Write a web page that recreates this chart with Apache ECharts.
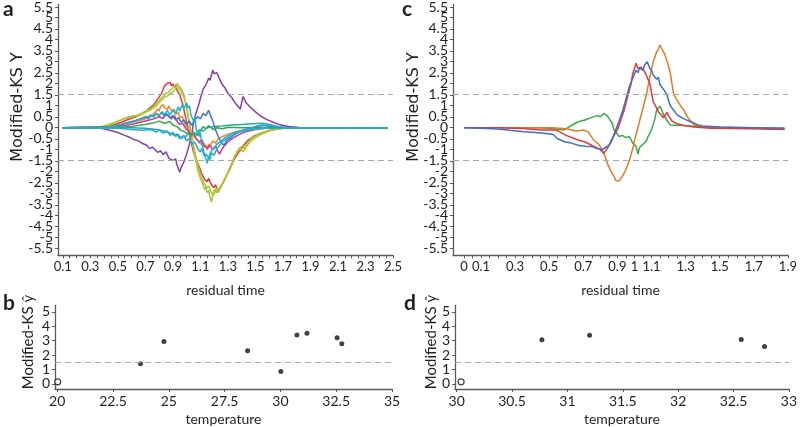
<!DOCTYPE html>
<html><head><meta charset="utf-8">
<script src="https://cdn.jsdelivr.net/npm/echarts@6/dist/echarts.min.js"></script>
<style>html,body{margin:0;padding:0;background:#fff}#c{width:800px;height:427px}</style>
</head><body><div id="c"></div>
<script>
// ---------- Panel a : residual time vs Modified-KS Y ----------
const purpleA = [[0.1,0],[0.3,0],[0.38,-0.03],[0.44,-0.12],[0.5,-0.22],[0.55,-0.35],[0.58,-0.42],[0.62,-0.55],[0.65,-0.6],[0.68,-0.72],[0.71,-0.8],[0.73,-0.95],[0.75,-0.88],[0.77,-1.0],[0.79,-1.12],[0.81,-1.05],[0.83,-1.22],[0.85,-1.1],[0.87,-1.38],[0.88,-1.3],[0.9,-1.5],[0.92,-1.42],[0.93,-1.7],[0.95,-2.02],[0.96,-1.8],[0.98,-1.55],[1.0,-1.2],[1.02,-0.75],[1.04,-0.2],[1.05,0.25],[1.07,0.7],[1.09,1.1],[1.11,1.55],[1.12,1.75],[1.14,1.95],[1.16,2.25],[1.17,2.15],[1.19,2.62],[1.2,2.45],[1.22,2.5],[1.24,2.2],[1.26,1.95],[1.28,1.8],[1.3,1.55],[1.33,1.35],[1.35,1.15],[1.37,1.0],[1.39,0.85],[1.4,0.8],[1.41,1.42],[1.43,1.15],[1.46,0.95],[1.5,0.72],[1.54,0.52],[1.58,0.38],[1.63,0.25],[1.68,0.13],[1.74,0.05],[1.82,0.01],[2.46,0]];
const redA = [[0.1,0],[0.35,0.01],[0.42,0.06],[0.48,0.15],[0.53,0.26],[0.57,0.36],[0.61,0.45],[0.65,0.55],[0.68,0.66],[0.71,0.78],[0.73,0.88],[0.75,0.98],[0.77,1.12],[0.79,1.3],[0.8,1.25],[0.81,1.48],[0.82,1.6],[0.83,1.75],[0.84,1.9],[0.85,1.82],[0.86,2.02],[0.87,1.95],[0.88,2.05],[0.89,1.9],[0.9,2.0],[0.91,1.85],[0.92,1.95],[0.93,1.7],[0.95,1.5],[0.97,1.1],[0.99,0.55],[1.01,0.0],[1.03,-0.6],[1.05,-1.1],[1.07,-1.45],[1.09,-1.75],[1.11,-2.1],[1.13,-2.35],[1.15,-2.45],[1.16,-2.3],[1.18,-2.6],[1.2,-2.72],[1.21,-2.6],[1.23,-2.9],[1.24,-2.75],[1.26,-2.55],[1.28,-2.3],[1.3,-2.05],[1.32,-1.8],[1.34,-1.5],[1.36,-1.3],[1.38,-1.1],[1.4,-0.95],[1.42,-0.75],[1.45,-0.55],[1.49,-0.38],[1.54,-0.25],[1.6,-0.13],[1.67,-0.05],[1.75,0],[2.46,0]];
const limeA = [[0.1,0],[0.35,0.02],[0.4,0.08],[0.45,0.18],[0.5,0.3],[0.55,0.42],[0.6,0.5],[0.63,0.55],[0.66,0.62],[0.69,0.7],[0.72,0.8],[0.75,0.9],[0.77,1.02],[0.79,1.15],[0.81,1.3],[0.83,1.42],[0.85,1.55],[0.87,1.62],[0.89,1.75],[0.9,1.7],[0.91,1.88],[0.92,1.8],[0.93,2.0],[0.94,2.08],[0.95,1.85],[0.96,1.9],[0.97,1.65],[0.98,1.5],[1.0,0.9],[1.02,0.2],[1.04,-0.6],[1.06,-1.3],[1.08,-1.9],[1.1,-2.3],[1.12,-2.6],[1.13,-2.8],[1.14,-2.7],[1.15,-2.95],[1.16,-2.85],[1.17,-3.15],[1.18,-3.38],[1.19,-3.1],[1.2,-3.0],[1.21,-2.85],[1.22,-2.95],[1.24,-2.75],[1.26,-2.55],[1.28,-2.3],[1.3,-2.0],[1.32,-1.75],[1.34,-1.45],[1.36,-1.15],[1.38,-0.95],[1.4,-0.85],[1.42,-0.95],[1.44,-0.7],[1.47,-0.5],[1.51,-0.33],[1.56,-0.2],[1.62,-0.1],[1.7,-0.02],[2.46,0]];
const oliveA = [[0.1,0],[0.38,0.03],[0.44,0.12],[0.5,0.28],[0.54,0.4],[0.58,0.5],[0.62,0.54],[0.66,0.56],[0.7,0.7],[0.73,0.78],[0.76,0.9],[0.78,0.98],[0.8,1.15],[0.82,1.25],[0.84,1.38],[0.86,1.45],[0.88,1.55],[0.9,1.62],[0.92,1.78],[0.93,1.9],[0.94,1.8],[0.95,1.72],[0.97,1.55],[0.99,1.2],[1.01,0.6],[1.03,-0.1],[1.05,-0.8],[1.07,-1.4],[1.09,-1.9],[1.11,-2.3],[1.13,-2.55],[1.14,-2.65],[1.15,-2.75],[1.16,-2.65],[1.18,-2.95],[1.19,-3.05],[1.2,-2.85],[1.22,-2.75],[1.23,-2.95],[1.25,-2.7],[1.27,-2.45],[1.29,-2.15],[1.31,-1.9],[1.33,-1.6],[1.35,-1.3],[1.37,-1.1],[1.39,-0.95],[1.4,-0.9],[1.41,-1.1],[1.43,-0.9],[1.46,-0.65],[1.5,-0.45],[1.55,-0.28],[1.6,-0.15],[1.66,-0.06],[1.72,0],[2.46,0]];
const orangeA = [[0.1,0],[0.4,0.02],[0.48,0.08],[0.55,0.18],[0.62,0.27],[0.68,0.36],[0.72,0.45],[0.75,0.55],[0.77,0.7],[0.78,0.62],[0.79,0.85],[0.8,0.75],[0.81,0.95],[0.82,0.88],[0.83,1.05],[0.84,0.9],[0.85,0.98],[0.86,0.82],[0.87,1.0],[0.88,0.85],[0.9,0.72],[0.91,0.85],[0.92,0.6],[0.94,0.7],[0.95,0.45],[0.97,0.5],[0.98,0.25],[1.0,0.05],[1.02,-0.15],[1.04,-0.3],[1.06,-0.45],[1.08,-0.55],[1.1,-0.75],[1.11,-0.65],[1.13,-0.9],[1.14,-0.8],[1.15,-1.02],[1.16,-0.75],[1.17,-0.85],[1.19,-0.6],[1.21,-0.7],[1.23,-0.5],[1.26,-0.4],[1.3,-0.3],[1.35,-0.2],[1.42,-0.1],[1.5,-0.04],[1.6,0],[2.46,0]];
const magentaA = [[0.1,0],[0.45,0.02],[0.55,0.1],[0.62,0.18],[0.7,0.3],[0.75,0.38],[0.8,0.5],[0.83,0.42],[0.85,0.62],[0.87,0.5],[0.89,0.4],[0.91,0.55],[0.93,0.3],[0.95,0.15],[0.97,0.2],[0.99,0.0],[1.01,-0.15],[1.03,-0.3],[1.05,-0.25],[1.07,-0.5],[1.09,-0.65],[1.11,-0.55],[1.13,-0.8],[1.15,-0.95],[1.17,-0.8],[1.19,-1.0],[1.21,-0.85],[1.23,-1.1],[1.24,-1.2],[1.25,-1.05],[1.27,-0.85],[1.3,-0.65],[1.33,-0.5],[1.37,-0.35],[1.42,-0.2],[1.5,-0.08],[1.6,0],[2.46,0]];
const greenA = [[0.1,0],[0.5,0.01],[0.6,0.06],[0.7,0.15],[0.76,0.22],[0.8,0.3],[0.84,0.2],[0.88,0.28],[0.9,0.12],[0.93,0.05],[0.96,-0.12],[0.99,-0.2],[1.02,-0.32],[1.05,-0.25],[1.08,-0.35],[1.1,-0.15],[1.12,0.05],[1.14,-0.05],[1.16,0.1],[1.19,-0.08],[1.22,0.0],[1.26,-0.05],[1.3,0.02],[1.4,0],[2.46,0]];
const tealA = [[0.1,0],[0.6,0],[0.7,-0.03],[0.78,-0.08],[0.84,-0.15],[0.88,-0.25],[0.91,-0.35],[0.93,-0.28],[0.95,-0.5],[0.97,-0.38],[0.99,-0.45],[1.01,-0.25],[1.03,-0.4],[1.05,-0.2],[1.07,-0.3],[1.09,-0.1],[1.12,-0.15],[1.15,0.0],[1.2,0.05],[1.26,0.08],[1.32,0.12],[1.4,0.15],[1.48,0.18],[1.55,0.2],[1.6,0.15],[1.66,0.06],[1.72,0.01],[2.46,0]];
const blueA = [[0.1,0],[0.45,0.04],[0.52,0.15],[0.58,0.25],[0.63,0.33],[0.67,0.42],[0.7,0.5],[0.72,0.42],[0.74,0.58],[0.76,0.5],[0.78,0.65],[0.8,0.55],[0.82,0.7],[0.84,0.52],[0.86,0.62],[0.88,0.45],[0.9,0.55],[0.92,0.35],[0.94,0.45],[0.96,0.25],[0.98,0.35],[1.0,0.15],[1.02,0.3],[1.04,0.1],[1.06,0.35],[1.08,0.5],[1.1,0.4],[1.12,0.65],[1.14,0.55],[1.16,0.8],[1.17,0.6],[1.19,0.3],[1.21,-0.1],[1.23,-0.4],[1.25,-0.65],[1.27,-0.8],[1.29,-0.6],[1.31,-0.5],[1.34,-0.35],[1.38,-0.2],[1.44,-0.05],[1.5,0.05],[1.56,0.1],[1.62,0.06],[1.7,0.01],[2.46,0]];
const skyA = [[0.1,0],[0.5,-0.03],[0.6,-0.08],[0.68,-0.12],[0.74,-0.08],[0.78,-0.2],[0.8,-0.1],[0.83,-0.25],[0.86,-0.15],[0.88,-0.35],[0.9,-0.2],[0.92,-0.4],[0.94,-0.3],[0.96,-0.5],[0.98,-0.35],[1.0,-0.6],[1.02,-0.5],[1.04,-0.75],[1.06,-0.65],[1.08,-0.95],[1.1,-1.1],[1.11,-0.95],[1.13,-1.3],[1.14,-1.2],[1.16,-1.35],[1.18,-1.05],[1.2,-0.9],[1.22,-0.75],[1.25,-0.6],[1.28,-0.45],[1.32,-0.3],[1.37,-0.18],[1.43,-0.08],[1.5,0.05],[1.55,0.12],[1.6,0.1],[1.66,0.05],[1.72,0],[2.46,0]];
const cyanA = [[0.1,0],[0.42,0.02],[0.5,0.1],[0.56,0.2],[0.62,0.3],[0.67,0.4],[0.71,0.48],[0.74,0.56],[0.76,0.5],[0.78,0.65],[0.8,0.55],[0.82,0.72],[0.84,0.6],[0.86,0.78],[0.88,0.58],[0.9,0.82],[0.92,0.65],[0.94,0.95],[0.95,0.75],[0.97,1.05],[0.98,0.85],[1.0,1.12],[1.01,0.9],[1.02,1.0],[1.03,0.6],[1.05,0.3],[1.06,0.45],[1.07,-0.1],[1.09,-0.4],[1.1,-0.25],[1.11,-0.75],[1.12,-0.95],[1.13,-1.25],[1.14,-1.4],[1.15,-1.62],[1.16,-1.3],[1.17,-1.45],[1.18,-1.15],[1.2,-1.25],[1.22,-0.95],[1.24,-0.8],[1.26,-0.65],[1.29,-0.5],[1.33,-0.35],[1.38,-0.2],[1.45,-0.1],[1.55,-0.02],[2.46,0]];

// ---------- Panel c ----------
const blueC = [[0.0,0],[0.1,-0.02],[0.2,-0.06],[0.27,-0.12],[0.35,-0.18],[0.42,-0.22],[0.48,-0.26],[0.52,-0.3],[0.55,-0.5],[0.59,-0.64],[0.63,-0.7],[0.67,-0.8],[0.71,-0.84],[0.75,-0.86],[0.78,-0.95],[0.81,-1.0],[0.83,-0.9],[0.85,-0.8],[0.87,-0.5],[0.89,-0.1],[0.91,0.3],[0.93,0.75],[0.94,0.8],[0.95,1.3],[0.97,1.86],[0.99,2.25],[1.01,2.62],[1.02,2.5],[1.03,2.7],[1.05,2.62],[1.06,2.85],[1.075,3.0],[1.09,2.7],[1.1,2.6],[1.11,2.4],[1.13,2.2],[1.14,2.3],[1.15,1.95],[1.17,1.75],[1.19,1.5],[1.21,1.0],[1.23,0.8],[1.25,0.58],[1.29,0.4],[1.33,0.27],[1.37,0.14],[1.4,0.08],[1.5,0.03],[1.7,0.0],[1.88,-0.03]];
const redC = [[0.0,0],[0.2,0],[0.35,-0.04],[0.45,-0.1],[0.54,-0.1],[0.6,-0.35],[0.67,-0.56],[0.71,-0.65],[0.75,-0.8],[0.78,-0.92],[0.8,-1.0],[0.82,-1.16],[0.84,-0.95],[0.86,-0.7],[0.88,-0.35],[0.9,-0.1],[0.92,0.35],[0.94,0.8],[0.96,1.4],[0.98,2.0],[0.99,2.45],[1.01,2.93],[1.02,2.7],[1.04,2.75],[1.06,2.55],[1.07,2.6],[1.09,2.02],[1.1,1.6],[1.11,1.18],[1.13,0.9],[1.14,0.73],[1.16,0.55],[1.17,0.45],[1.19,0.7],[1.2,0.55],[1.22,0.3],[1.25,0.18],[1.29,0.1],[1.35,0.03],[1.45,-0.02],[1.7,-0.05],[1.88,-0.08]];
const orangeC = [[0.2,0],[0.4,0],[0.52,0],[0.6,-0.05],[0.66,-0.15],[0.7,-0.1],[0.73,-0.2],[0.76,-0.55],[0.79,-0.75],[0.81,-1.0],[0.83,-1.35],[0.84,-1.6],[0.86,-1.95],[0.88,-2.2],[0.89,-2.4],[0.9,-2.35],[0.91,-2.42],[0.93,-2.2],[0.95,-1.9],[0.97,-1.5],[0.99,-0.95],[1.0,-0.6],[1.02,0.0],[1.04,0.6],[1.06,1.2],[1.07,1.5],[1.09,2.3],[1.11,3.0],[1.12,3.2],[1.13,3.45],[1.14,3.55],[1.15,3.76],[1.16,3.6],[1.17,3.62],[1.18,3.3],[1.19,3.05],[1.2,2.8],[1.21,2.5],[1.23,1.5],[1.25,1.25],[1.27,1.0],[1.29,0.8],[1.31,0.5],[1.33,0.3],[1.35,0.12],[1.4,0.03],[1.6,-0.02],[1.88,-0.05]];
const greenC = [[0.37,0],[0.45,0],[0.52,-0.05],[0.59,-0.1],[0.63,0.1],[0.67,0.27],[0.71,0.35],[0.75,0.47],[0.78,0.55],[0.8,0.5],[0.82,0.65],[0.84,0.55],[0.85,0.47],[0.87,0.2],[0.88,-0.1],[0.9,-0.3],[0.91,-0.4],[0.93,-0.35],[0.95,-0.45],[0.97,-0.4],[0.99,-0.7],[1.01,-0.85],[1.02,-1.2],[1.03,-0.9],[1.05,-0.75],[1.07,-0.6],[1.08,-0.4],[1.1,-0.1],[1.12,0.4],[1.13,0.8],[1.15,0.98],[1.16,0.8],[1.17,0.6],[1.19,0.35],[1.21,0.12],[1.25,0.1],[1.29,0.1],[1.33,0.08],[1.4,0.02],[1.6,0],[1.88,-0.03]];

// ---------- Panels b and d : temperature vs Modified-KS ŷ ----------
const tempB = [23.73, 24.78, 28.53, 30.02, 30.74, 31.19, 32.54, 32.75];
const yhatB = [1.40, 2.94, 2.30, 0.87, 3.40, 3.51, 3.21, 2.78];
const openB = [[20.02, 0.15]];
const tempD = [30.77, 31.2, 32.57, 32.78];
const yhatD = [3.06, 3.38, 3.08, 2.59];
const openD = [[30.04, 0.15]];

// ---------- tick labels ----------
const yLabelsACInt = [-5,-4,-3,-2,-1,0,1,2,3,4,5];
const yLabelsACHalf = [-5.5,-4.5,-3.5,-2.5,-1.5,-0.5,0.5,1.5,2.5,3.5,4.5,5.5];
const xLabelsA = [0.1,0.3,0.5,0.7,0.9,1.1,1.3,1.5,1.7,1.9,2.1,2.3,2.5];
const xLabelsC = [0,0.1,0.3,0.5,0.7,0.9,1,1.1,1.3,1.5,1.7,1.9];
const yLabelsBD = [0,1,2,3,4,5];
const xLabelsB = [20,22.5,25,27.5,30,32.5,35];
const xLabelsD = [30,30.5,31,31.5,32,32.5,33];
const threshold = 1.5;

function steps(a, b, s) { const r = []; for (let i = 0; a + i * s <= b + 1e-9; i++) r.push(Math.round((a + i * s) * 1000) / 1000); return r; }

const FONT = 'Lato';
const TXT = '#231f20';
const AX = '#58595b';

function valueAxis(gridIndex, min, max, labels, ticks, fontSize, extra) {
  return Object.assign({
    type: 'value', gridIndex, min, max,
    axisLine: { show: true, onZero: false, lineStyle: { color: AX, width: 1.3 } },
    axisTick: { show: true, customValues: ticks, length: 3, lineStyle: { color: AX } },
    axisLabel: { customValues: labels, color: TXT, fontFamily: FONT, fontSize: fontSize, margin: 5,
                 showMinLabel: true, showMaxLabel: true, hideOverlap: false },
    splitLine: { show: false }
  }, extra || {});
}
const hidden = (gridIndex, min, max) => ({ type: 'value', gridIndex, min, max, show: false });

const dashed = {
  symbol: ['none', 'none'], silent: true, label: { show: false },
  lineStyle: { type: [6, 4], color: '#a7a9ac', width: 1 }
};

const aColors = [
  ['purple', '#8a3fa8', purpleA], ['red', '#e8383d', redA], ['lime', '#a2c539', limeA],
  ['olive', '#b9c42b', oliveA], ['orange', '#ef8a2e', orangeA], ['magenta', '#c3399b', magentaA],
  ['green', '#3aa64b', greenA], ['teal', '#22ae9c', tealA], ['blue', '#3c78c6', blueA],
  ['sky', '#29a8dc', skyA], ['cyan', '#1eb3c4', cyanA]
];
const cColors = [['green', '#3aac48', greenC], ['orange', '#e07b28', orangeC], ['red', '#e03a3e', redC], ['blue', '#3d6fc4', blueC]];

const series = [];
aColors.forEach((s, i) => {
  series.push({
    type: 'line', name: s[0], xAxisIndex: 0, yAxisIndex: 0, data: s[2], showSymbol: false,
    lineStyle: { color: s[1], width: 1.5 }, itemStyle: { color: s[1] },
    markLine: i === 0 ? Object.assign({ data: [{ yAxis: threshold }, { yAxis: -threshold }] }, dashed) : undefined
  });
});
cColors.forEach((s, i) => {
  series.push({
    type: 'line', name: s[0], xAxisIndex: 1, yAxisIndex: 1, data: s[2], showSymbol: false,
    lineStyle: { color: s[1], width: 1.5 }, itemStyle: { color: s[1] },
    markLine: i === 0 ? Object.assign({ data: [{ yAxis: threshold }, { yAxis: -threshold }] }, dashed) : undefined
  });
});
series.push({
  type: 'scatter', xAxisIndex: 2, yAxisIndex: 2, symbolSize: 5,
  data: tempB.map((t, i) => [t, yhatB[i]]), itemStyle: { color: '#111' },
  markLine: Object.assign({ data: [{ yAxis: threshold }] }, dashed)
});
series.push({
  type: 'scatter', xAxisIndex: 2, yAxisIndex: 2, symbolSize: 6, data: openB,
  itemStyle: { color: '#fff', borderColor: '#111', borderWidth: 1.2 }
});
series.push({
  type: 'scatter', xAxisIndex: 3, yAxisIndex: 3, symbolSize: 5,
  data: tempD.map((t, i) => [t, yhatD[i]]), itemStyle: { color: '#111' },
  markLine: Object.assign({ data: [{ yAxis: threshold }] }, dashed)
});
series.push({
  type: 'scatter', xAxisIndex: 3, yAxisIndex: 3, symbolSize: 6, data: openD,
  itemStyle: { color: '#fff', borderColor: '#111', borderWidth: 1.2 }
});

const nameStyle = { color: TXT, fontFamily: FONT, fontSize: 14 };
const gridA = { left: 58, top: 4.5, width: 335, height: 250.8 };
const gridC = { left: 453, top: 4.5, width: 340, height: 250.8 };
const halfLabelAxis = (gi) => valueAxis(gi, -5.8, 5.6, yLabelsACHalf, yLabelsACHalf, 14,
  { axisLine: { show: false, onZero: false }, axisTick: { show: true, customValues: yLabelsACHalf, length: 3, lineStyle: { color: AX } } });

const option = {
  animation: false,
  backgroundColor: '#fff',
  grid: [
    gridA, gridC,
    { left: 55, top: 305.3, width: 337, height: 84.1 },
    { left: 455, top: 305.3, width: 337, height: 84.1 },
    Object.assign({}, gridA), Object.assign({}, gridC)
  ],
  xAxis: [
    valueAxis(0, 0.065, 2.5, xLabelsA, steps(0.1, 2.5, 0.05), 13, { name: 'residual time', nameLocation: 'middle', nameGap: 28, nameTextStyle: nameStyle }),
    valueAxis(1, -0.064, 1.9, xLabelsC, steps(0, 1.9, 0.05), 13, { name: 'residual time', nameLocation: 'middle', nameGap: 28, nameTextStyle: nameStyle }),
    valueAxis(2, 19.9, 35, xLabelsB, xLabelsB, 14, { name: 'temperature', nameLocation: 'middle', nameGap: 23, nameTextStyle: nameStyle }),
    valueAxis(3, 29.985, 33, xLabelsD, xLabelsD, 14, { name: 'temperature', nameLocation: 'middle', nameGap: 23, nameTextStyle: nameStyle }),
    hidden(4, 0.065, 2.5),
    hidden(5, -0.064, 1.9)
  ],
  yAxis: [
    valueAxis(0, -5.8, 5.6, yLabelsACInt, yLabelsACInt, 14),
    valueAxis(1, -5.8, 5.6, yLabelsACInt, yLabelsACInt, 14),
    valueAxis(2, -0.35, 5.45, yLabelsBD, yLabelsBD, 14),
    valueAxis(3, -0.35, 5.45, yLabelsBD, yLabelsBD, 14),
    halfLabelAxis(4),
    halfLabelAxis(5)
  ],
  graphic: [
    { type: 'text', x: 3, y: -1, style: { text: 'a', font: 'bold 21px ' + FONT, fill: TXT } },
    { type: 'text', x: 402, y: -1, style: { text: 'c', font: 'bold 21px ' + FONT, fill: TXT } },
    { type: 'text', x: 3, y: 293, style: { text: 'b', font: 'bold 21px ' + FONT, fill: TXT } },
    { type: 'text', x: 404, y: 293, style: { text: 'd', font: 'bold 21px ' + FONT, fill: TXT } },
    { type: 'text', x: 18, y: 107, rotation: Math.PI / 2, style: { text: 'Modified-KS Y', font: '16px "DejaVu Sans"', fill: TXT, align: 'center', verticalAlign: 'middle' } },
    { type: 'text', x: 414, y: 107, rotation: Math.PI / 2, style: { text: 'Modified-KS Y', font: '16px "DejaVu Sans"', fill: TXT, align: 'center', verticalAlign: 'middle' } },
    { type: 'text', x: 28, y: 342, rotation: Math.PI / 2, style: { text: 'Modified-KS ŷ', font: '15px ' + FONT, fill: TXT, align: 'center', verticalAlign: 'middle' } },
    { type: 'text', x: 431, y: 342, rotation: Math.PI / 2, style: { text: 'Modified-KS ŷ', font: '15px ' + FONT, fill: TXT, align: 'center', verticalAlign: 'middle' } }
  ],
  series
};
const chart = echarts.init(document.getElementById('c'), null, { renderer: 'canvas' });
chart.setOption(option);
</script></body></html>
